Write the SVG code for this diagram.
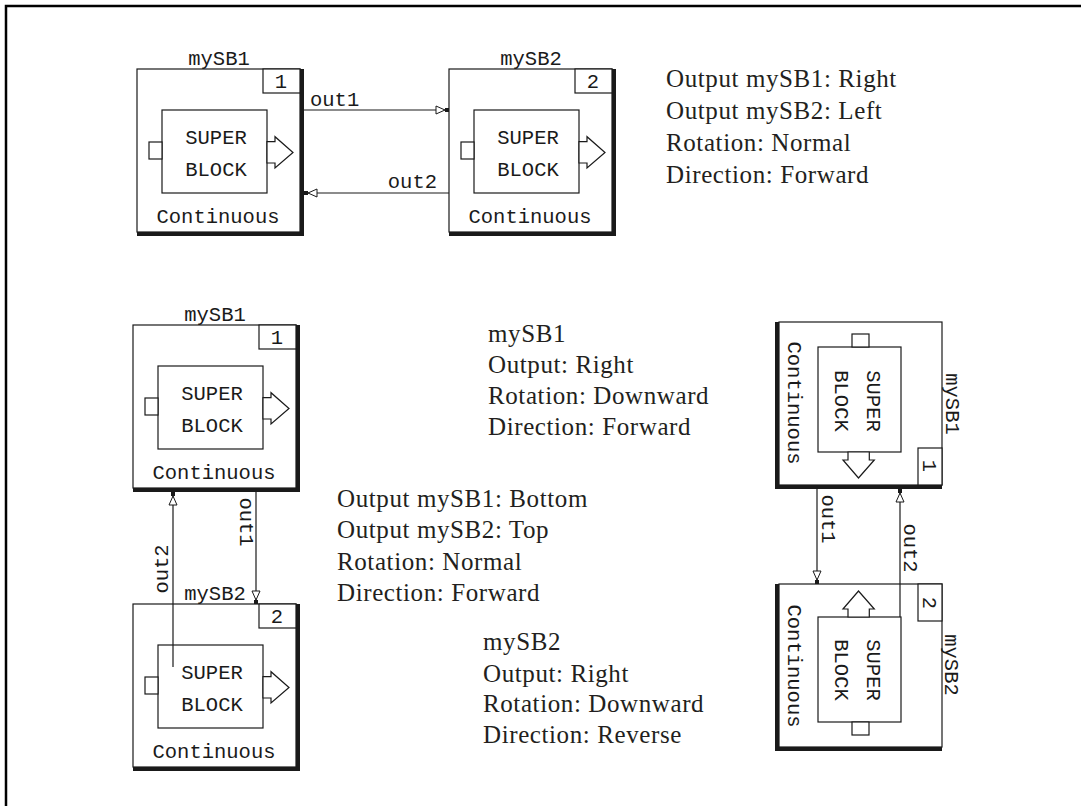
<svg xmlns="http://www.w3.org/2000/svg" width="1081" height="806" viewBox="0 0 1081 806">
<style>
.box{fill:#fff;stroke:#1a1a1a;stroke-width:1.2}
.sh{fill:#1a1a1a}
.m{font-family:"Liberation Mono","Courier New",monospace;font-size:20.5px;fill:#1a1a1a}
.c{text-anchor:middle}
.t{font-family:"Liberation Serif","Times New Roman",serif;font-size:25px;fill:#231f20;letter-spacing:0.6px}
.cn{fill:none;stroke:#1a1a1a;stroke-width:1.2}
</style>
<defs>
<marker id="ah" markerUnits="userSpaceOnUse" markerWidth="16" markerHeight="12" viewBox="-15 -6 16 12" refX="0" refY="0" orient="auto">
<rect x="-4" y="-2" width="4" height="4" fill="#1a1a1a"/>
<polygon points="-4,0 -13,-4 -13,4" fill="#fff" stroke="#1a1a1a" stroke-width="1"/>
</marker>
</defs>
<rect width="1081" height="806" fill="#fff"/>
<path d="M6,806 V6 H1081" fill="none" stroke="#000" stroke-width="2.5"/>

<g id="top-mySB1" transform="translate(137,69)">
<rect class="box" x="0" y="0" width="163" height="163"/>
<rect class="sh" x="163" y="0" width="4" height="167"/>
<rect class="sh" x="0" y="163" width="167" height="4"/>
<rect class="box" x="126" y="0" width="37" height="24"/>
<rect class="box" x="25" y="41" width="105" height="83"/>
<rect class="box" x="12" y="73" width="13" height="17"/>
<polygon class="box" points="130,72.7 138,72.7 138,67.7 156,83.5 138,99 138,94 130,94"/>
<text class="m c" x="144" y="19">1</text>
<text class="m c" x="79" y="75">SUPER</text>
<text class="m c" x="79" y="107">BLOCK</text>
<text class="m c" x="81" y="154">Continuous</text>
<text class="m c" x="82" y="-4">mySB1</text>
</g>

<g id="top-mySB2" transform="translate(449,69)">
<rect class="box" x="0" y="0" width="163" height="163"/>
<rect class="sh" x="163" y="0" width="4" height="167"/>
<rect class="sh" x="0" y="163" width="167" height="4"/>
<rect class="box" x="126" y="0" width="37" height="24"/>
<rect class="box" x="25" y="41" width="105" height="83"/>
<rect class="box" x="12" y="73" width="13" height="17"/>
<polygon class="box" points="130,72.7 138,72.7 138,67.7 156,83.5 138,99 138,94 130,94"/>
<text class="m c" x="144" y="19">2</text>
<text class="m c" x="79" y="75">SUPER</text>
<text class="m c" x="79" y="107">BLOCK</text>
<text class="m c" x="81" y="154">Continuous</text>
<text class="m c" x="82" y="-4">mySB2</text>
</g>

<g id="bl-mySB1" transform="translate(133,325)">
<rect class="box" x="0" y="0" width="163" height="163"/>
<rect class="sh" x="163" y="0" width="4" height="167"/>
<rect class="sh" x="0" y="163" width="167" height="4"/>
<rect class="box" x="126" y="0" width="37" height="24"/>
<rect class="box" x="25" y="41" width="105" height="83"/>
<rect class="box" x="12" y="73" width="13" height="17"/>
<polygon class="box" points="130,72.7 138,72.7 138,67.7 156,83.5 138,99 138,94 130,94"/>
<text class="m c" x="144" y="19">1</text>
<text class="m c" x="79" y="75">SUPER</text>
<text class="m c" x="79" y="107">BLOCK</text>
<text class="m c" x="81" y="154">Continuous</text>
<text class="m c" x="82" y="-4">mySB1</text>
</g>

<g id="bl-mySB2" transform="translate(133,604)">
<rect class="box" x="0" y="0" width="163" height="163"/>
<rect class="sh" x="163" y="0" width="4" height="167"/>
<rect class="sh" x="0" y="163" width="167" height="4"/>
<rect class="box" x="126" y="0" width="37" height="24"/>
<rect class="box" x="25" y="41" width="105" height="83"/>
<rect class="box" x="12" y="73" width="13" height="17"/>
<polygon class="box" points="130,72.7 138,72.7 138,67.7 156,83.5 138,99 138,94 130,94"/>
<text class="m c" x="144" y="19">2</text>
<text class="m c" x="79" y="75">SUPER</text>
<text class="m c" x="79" y="107">BLOCK</text>
<text class="m c" x="81" y="154">Continuous</text>
<text class="m c" x="82" y="-4">mySB2</text>
</g>

<g id="r-mySB1" transform="translate(942,322) rotate(90)">
<rect class="box" x="0" y="0" width="163" height="163"/>
<rect class="sh" x="163" y="0" width="4" height="167"/>
<rect class="sh" x="0" y="163" width="167" height="4"/>
<rect class="box" x="126" y="0" width="37" height="24"/>
<rect class="box" x="25" y="41" width="105" height="83"/>
<rect class="box" x="12" y="73" width="13" height="17"/>
<polygon class="box" points="130,72.7 138,72.7 138,67.7 156,83.5 138,99 138,94 130,94"/>
<text class="m c" x="144" y="19">1</text>
<text class="m c" x="79" y="75">SUPER</text>
<text class="m c" x="79" y="107">BLOCK</text>
<text class="m c" x="81" y="154">Continuous</text>
<text class="m c" x="82" y="-4">mySB1</text>
</g>

<g id="r-mySB2">
<rect class="box" x="779" y="584" width="163" height="163"/>
<rect class="sh" x="775" y="584" width="4" height="167"/>
<rect class="sh" x="775" y="747" width="167" height="4"/>
<rect class="box" x="918" y="584" width="24" height="37"/>
<rect class="box" x="818" y="617" width="83" height="105"/>
<rect class="box" x="852" y="722" width="17" height="13"/>
<polygon class="box" points="869.3,617 869.3,609 874.3,609 858.5,591 843,609 848,609 848,617"/>
<text class="m c" transform="translate(923,603) rotate(90)">2</text>
<text class="m c" transform="translate(867,670) rotate(90)">SUPER</text>
<text class="m c" transform="translate(835,670) rotate(90)">BLOCK</text>
<text class="m c" transform="translate(788,666) rotate(90)">Continuous</text>
<text class="m c" transform="translate(945,665) rotate(90)">mySB2</text>
</g>

<g id="connectors">
<line class="cn" x1="304" y1="110" x2="449" y2="110" marker-end="url(#ah)"/>
<line class="cn" x1="449" y1="193" x2="304" y2="193" marker-end="url(#ah)"/>
<line class="cn" x1="256" y1="492" x2="256" y2="604" marker-end="url(#ah)"/>
<line class="cn" x1="173" y1="667" x2="173" y2="492" marker-end="url(#ah)"/>
<line class="cn" x1="817" y1="489" x2="817" y2="584" marker-end="url(#ah)"/>
<line class="cn" x1="900" y1="617" x2="900" y2="489" marker-end="url(#ah)"/>
<text class="m" x="310" y="106">out1</text>
<text class="m" x="437" y="188" text-anchor="end">out2</text>
<text class="m c" transform="translate(168,569) rotate(-90)">out2</text>
<text class="m c" transform="translate(240,522) rotate(90)">out1</text>
<text class="m c" transform="translate(822,519) rotate(90)">out1</text>
<text class="m c" transform="translate(904,548) rotate(90)">out2</text>
</g>

<g id="notes">
<text class="t" x="666" y="87">Output mySB1: Right</text>
<text class="t" x="666" y="119">Output mySB2: Left</text>
<text class="t" x="666" y="151">Rotation: Normal</text>
<text class="t" x="666" y="183">Direction: Forward</text>
<text class="t" x="488" y="342">mySB1</text>
<text class="t" x="488" y="373">Output: Right</text>
<text class="t" x="488" y="404">Rotation: Downward</text>
<text class="t" x="488" y="435">Direction: Forward</text>
<text class="t" x="337" y="507">Output mySB1: Bottom</text>
<text class="t" x="337" y="538">Output mySB2: Top</text>
<text class="t" x="337" y="570">Rotation: Normal</text>
<text class="t" x="337" y="601">Direction: Forward</text>
<text class="t" x="483" y="650">mySB2</text>
<text class="t" x="483" y="682">Output: Right</text>
<text class="t" x="483" y="712">Rotation: Downward</text>
<text class="t" x="483" y="743">Direction: Reverse</text>
</g>
</svg>
